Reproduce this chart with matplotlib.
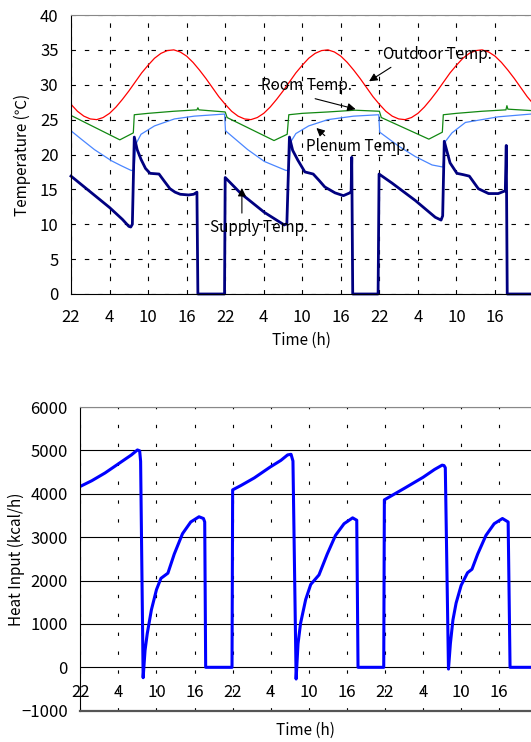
"""
Air-conditioning simulation over three days: temperatures (top) and
heat input (bottom). Time axis is hours counted from 22:00 on day one.
"""
import numpy as np
import matplotlib
matplotlib.use("Agg")
import matplotlib.pyplot as plt

plt.rcParams["font.family"] = ["Noto Sans CJK JP", "DejaVu Sans"]
plt.rcParams["font.size"] = 11

# tick positions (hours from 22:00) and their clock labels
TICK_HOURS = [0, 6, 12, 18, 24, 30, 36, 42, 48, 54, 60, 66]
TICK_LABELS = ["22", "4", "10", "16"] * 3

# outdoor temperature, one value per hour starting 22:00 (same every day)
OUTDOOR_DAY = [27.2, 26.2, 25.5, 25.1, 25.0, 25.3, 25.9, 26.8, 27.9, 29.1,
               30.4, 31.7, 32.8, 33.8, 34.5, 34.9, 35.0, 34.7, 34.1, 33.2,
               32.1, 30.9, 29.6, 28.3]

ROOM_T = [0, 7.6, 9.7, 9.85, 12, 16, 19.6, 19.75, 19.9, 24.0, 24.3,
          31.6, 33.65, 33.9, 36, 40, 44.2, 48.0, 48.3,
          55.7, 57.8, 57.95, 60, 64, 67.7, 67.85, 68.0, 71.6]
ROOM = [25.6, 22.1, 23.1, 25.7, 25.9, 26.2, 26.4, 26.7, 26.4, 26.1, 25.3,
        22.0, 22.9, 25.7, 25.9, 26.1, 26.35, 26.2, 25.3,
        22.2, 23.2, 25.7, 25.9, 26.2, 26.4, 27.0, 26.5, 26.3]

PLENUM_T = [0, 1.6, 3.65, 6.3, 7.8, 9.4, 9.8, 10.1, 10.9, 13, 16.1, 19.2, 23.9,
            24.05, 27.5, 30.1, 33.5, 33.9, 34.2, 35, 37, 40, 44, 47.9,
            48.05, 51, 53.6, 56.2, 57.9, 58.3, 59.3, 61.4, 66.5, 71.6]
PLENUM = [23.4, 22.2, 20.7, 19.1, 18.4, 17.7, 17.8, 21.5, 22.9, 24.1, 25.1, 25.5, 25.8,
          23.4, 20.7, 19.0, 17.7, 17.8, 21.8, 23.0, 24.1, 25.0, 25.5, 25.7,
          23.2, 21.2, 19.7, 18.5, 18.2, 21.9, 23.1, 24.6, 25.4, 25.8]

SUPPLY_T = [0, 2, 4, 6, 8, 9.0, 9.3, 9.55, 9.85, 10.3, 10.9, 11.6, 12.3, 13.7,
            14.5, 15.4, 16.2, 17.0, 18.3, 19.1, 19.6, 19.75, 23.9,
            24.0, 26.45, 30.1, 33.2, 33.6, 34.0, 34.5, 35.3, 36.4, 37.7, 38.6,
            39.5, 41.1, 42.4, 43.4, 43.6, 43.7, 43.85, 47.8,
            47.95, 49.97, 53.6, 56.7, 57.6, 57.85, 58.1, 59.0, 60.07, 61.1,
            62.0, 63.4, 65.0, 66.5, 67.6, 67.75, 67.9, 71.6]
SUPPLY = [16.9, 15.4, 13.9, 12.4, 10.7, 9.7, 9.6, 10.0, 22.5, 20.7, 19.3, 18.0, 17.3, 17.2,
          16.2, 15.1, 14.6, 14.3, 14.2, 14.3, 14.6, 0, 0,
          16.7, 14.4, 11.7, 9.9, 10.1, 22.5, 20.6, 19.2, 17.5, 17.2, 16.3,
          15.35, 14.5, 14.1, 14.5, 14.6, 19.6, 0, 0,
          17.2, 15.9, 13.4, 11.0, 10.6, 11.2, 21.9, 18.8, 17.3, 17.1,
          16.9, 15.1, 14.4, 14.4, 14.8, 21.3, 0, 0]

HEAT_T = [0, 1.8, 3.9, 6, 8.05, 9.0, 9.35, 9.5, 9.9, 10.2, 10.55, 11.2, 12, 12.7,
          13.8, 14.8, 16.1, 17.4, 18.7, 19.4, 19.6, 19.75, 23.9,
          24.0, 25.3, 27.4, 29.9, 31.6, 32.65, 33.2, 33.5, 34.0, 34.3, 34.7,
          35.5, 36.3, 37.6, 38.9, 40.2, 41.55, 42.9, 43.55, 43.75, 47.8,
          47.9, 51.1, 54, 55.8, 57.0, 57.3, 57.5, 58.0, 58.3, 58.7, 59.2, 60,
          61, 61.7, 62.6, 63.9, 65.2, 66.5, 67.4, 67.7, 71.0]
HEAT = [4170, 4300, 4480, 4690, 4895, 5010, 4990, 4750, -240, 390, 780, 1325, 1790, 2050,
        2170, 2610, 3080, 3350, 3470, 3430, 3350, 0, 0,
        4090, 4190, 4365, 4615, 4770, 4895, 4910, 4755, -270, 545, 1015,
        1560, 1910, 2130, 2610, 3040, 3310, 3445, 3390, 0, 0,
        3860, 4130, 4380, 4560, 4660, 4650, 4600, -40, 545, 1090, 1480, 1890,
        2180, 2260, 2610, 3040, 3310, 3430, 3350, 0, 0]

# curve labels: text anchor, arrow tail, arrow head (hours, degC)
LABELS = ["Outdoor Temp.", "Room Temp.", "Plenum Temp.", "Supply Temp."]
LABEL_POS = [(48.5, 34.4), (29.5, 29.9), (36.6, 21.2), (21.7, 9.6)]
ARROW_FROM = [(49.8, 32.5), (38.0, 28.0), (39.5, 22.7), (26.6, 11.6)]
ARROW_TO = [(46.4, 30.5), (44.3, 26.5), (38.2, 23.8), (26.6, 15.2)]

W, H = 531, 742
fig = plt.figure(figsize=(W / 100, H / 100), dpi=100)

# ---------------- top: temperatures ----------------
ax1 = fig.add_axes([71 / W, 1 - 294 / H, (W - 71) / W, 279 / H])
outdoor = np.append(np.tile(OUTDOOR_DAY, 3), OUTDOOR_DAY[0])
ax1.plot(np.arange(len(outdoor)), outdoor, color="#ff0000", lw=0.9)
ax1.plot(ROOM_T, ROOM, color="#118811", lw=0.9)
ax1.plot(PLENUM_T, PLENUM, color="#4a86ff", lw=0.9)
ax1.plot(SUPPLY_T, SUPPLY, color="#000080", lw=2.0, clip_on=False)

ax1.set_xlim(0, 71.6)
ax1.set_ylim(0, 40)
ax1.set_yticks(np.arange(0, 41, 5))
ax1.set_xticks(TICK_HOURS)
ax1.set_xticklabels(TICK_LABELS)
ax1.tick_params(length=0, labelsize=12)
ax1.tick_params(axis="x", pad=11)
ax1.tick_params(axis="y", pad=9)
ax1.grid(True, color="black", linestyle=(0, (4, 8)), linewidth=0.8)
ax1.set_axisbelow(True)
ax1.spines["right"].set_visible(False)
ax1.spines["top"].set_color("#888888")
ax1.set_xlabel("Time (h)", fontsize=11, labelpad=4)
ax1.set_ylabel("Temperature (℃)", fontsize=11)
ax1.yaxis.set_label_coords(-0.087, 0.5)

for text, pos, tail, head in zip(LABELS, LABEL_POS, ARROW_FROM, ARROW_TO):
    ax1.text(pos[0], pos[1], text, fontsize=11, va="center", ha="left")
    ax1.annotate("", xy=head, xytext=tail,
                 arrowprops=dict(arrowstyle="-|>", color="black", lw=0.8,
                                 mutation_scale=12, shrinkA=0, shrinkB=0))

# ---------------- bottom: heat input ----------------
ax2 = fig.add_axes([80.3 / W, 1 - 710.7 / H, (W - 80.3) / W, 303.7 / H])
ax2.plot(HEAT_T, HEAT, color="#0000ff", lw=2.2)
ax2.set_xlim(0, 71.0)
ax2.set_ylim(-1000, 6000)
ax2.set_yticks(np.arange(-1000, 6001, 1000))
ax2.set_xticks(TICK_HOURS)
ax2.tick_params(length=0, labelbottom=False, labelsize=12)
ax2.tick_params(axis="y", pad=9)
ax2.yaxis.grid(True, color="black", linestyle="-", linewidth=0.8)
ax2.xaxis.grid(True, color="black", linestyle=(0, (3, 14)), linewidth=0.8)
ax2.set_axisbelow(True)
ax2.spines["right"].set_visible(False)
ax2.spines["top"].set_color("#888888")
ax2.spines["bottom"].set_color("#555555")
ax2.spines["bottom"].set_linewidth(1.6)
ax2.set_xlabel("Time (h)", fontsize=11)
ax2.xaxis.set_label_coords(0.5, -0.038)
ax2.set_ylabel("Heat Input (kcal/h)", fontsize=11)
ax2.yaxis.set_label_coords(-0.1227, 0.5)

# clock labels sit on the zero line
sec = ax2.secondary_xaxis(1 / 7)
sec.set_xticks(TICK_HOURS)
sec.set_xticklabels(TICK_LABELS)
sec.tick_params(length=0, pad=12, labelsize=12)
sec.spines["bottom"].set_visible(False)

fig.savefig("out.png", dpi=100)
